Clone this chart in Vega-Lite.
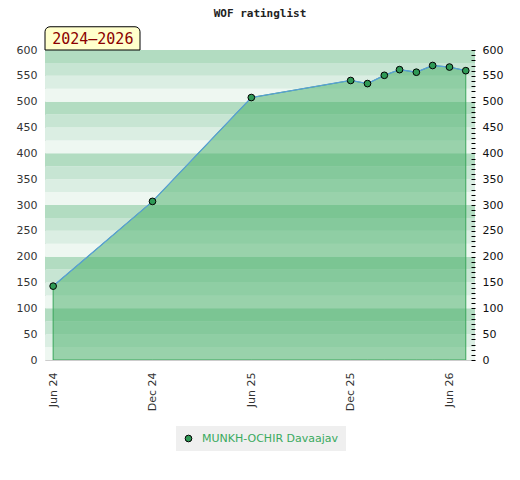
{
  "$schema": "https://vega.github.io/schema/vega-lite/v6.json",
  "autosize": "none",
  "width": 430,
  "height": 310,
  "padding": {"left": 45, "top": 50, "right": 45, "bottom": 120},
  "background": "white",
  "title": {"text": "WOF ratinglist", "font": "DejaVu Sans Mono", "fontSize": 11, "fontWeight": "bold", "color": "#222222", "offset": 7, "anchor": "middle"},
  "config": {
    "view": {"stroke": null},
    "axis": {"labelFont": "DejaVu Sans", "labelFontSize": 11, "labelColor": "#333333", "grid": false}
  },
  "datasets": {
    "ratings": [
      {"date": "2024-06-01", "rating": 143, "player": "MUNKH-OCHIR Davaajav"},
      {"date": "2024-12-01", "rating": 307, "player": "MUNKH-OCHIR Davaajav"},
      {"date": "2025-06-01", "rating": 508, "player": "MUNKH-OCHIR Davaajav"},
      {"date": "2025-12-01", "rating": 541, "player": "MUNKH-OCHIR Davaajav"},
      {"date": "2026-01-01", "rating": 535, "player": "MUNKH-OCHIR Davaajav"},
      {"date": "2026-02-01", "rating": 551, "player": "MUNKH-OCHIR Davaajav"},
      {"date": "2026-03-01", "rating": 562, "player": "MUNKH-OCHIR Davaajav"},
      {"date": "2026-04-01", "rating": 557, "player": "MUNKH-OCHIR Davaajav"},
      {"date": "2026-05-01", "rating": 570, "player": "MUNKH-OCHIR Davaajav"},
      {"date": "2026-06-01", "rating": 567, "player": "MUNKH-OCHIR Davaajav"},
      {"date": "2026-07-01", "rating": 560, "player": "MUNKH-OCHIR Davaajav"}
    ],
    "bands": [
      {"lo": 0, "hi": 25, "shade": "d"}, {"lo": 25, "hi": 50, "shade": "c"}, {"lo": 50, "hi": 75, "shade": "b"}, {"lo": 75, "hi": 100, "shade": "a"},
      {"lo": 100, "hi": 125, "shade": "d"}, {"lo": 125, "hi": 150, "shade": "c"}, {"lo": 150, "hi": 175, "shade": "b"}, {"lo": 175, "hi": 200, "shade": "a"},
      {"lo": 200, "hi": 225, "shade": "d"}, {"lo": 225, "hi": 250, "shade": "c"}, {"lo": 250, "hi": 275, "shade": "b"}, {"lo": 275, "hi": 300, "shade": "a"},
      {"lo": 300, "hi": 325, "shade": "d"}, {"lo": 325, "hi": 350, "shade": "c"}, {"lo": 350, "hi": 375, "shade": "b"}, {"lo": 375, "hi": 400, "shade": "a"},
      {"lo": 400, "hi": 425, "shade": "d"}, {"lo": 425, "hi": 450, "shade": "c"}, {"lo": 450, "hi": 475, "shade": "b"}, {"lo": 475, "hi": 500, "shade": "a"},
      {"lo": 500, "hi": 525, "shade": "d"}, {"lo": 525, "hi": 550, "shade": "c"}, {"lo": 550, "hi": 575, "shade": "b"}, {"lo": 575, "hi": 600, "shade": "a"}
    ],
    "note": [
      {"label": "2024–2026", "start": "2024-05-17", "end": "2024-11-08", "mid": "2024-08-13", "lo": 600, "hi": 645, "ty": 622}
    ]
  },
  "resolve": {"scale": {"color": "independent", "fill": "independent"}, "axis": {"y": "independent"}},
  "layer": [
    {
      "data": {"name": "bands"},
      "mark": {"type": "rect"},
      "encoding": {
        "y": {"field": "lo", "type": "quantitative", "scale": {"domain": [0, 600], "nice": false},
              "axis": {"orient": "left", "values": [0, 50, 100, 150, 200, 250, 300, 350, 400, 450, 500, 550, 600], "ticks": false, "domainColor": "#cccccc", "labelPadding": 8, "labelFlush": false, "title": null}},
        "y2": {"field": "hi"},
        "color": {"field": "shade", "type": "nominal", "scale": {"domain": ["a", "b", "c", "d"], "range": ["#b2dcc1", "#c7e5d3", "#dbeee3", "#eef7f1"]}, "legend": null}
      }
    },
    {
      "data": {"name": "ratings"},
      "mark": {"type": "area", "fill": "#43ad66", "fillOpacity": 0.5, "stroke": "#3aa65a", "strokeWidth": 1},
      "encoding": {
        "x": {"field": "date", "type": "temporal",
              "scale": {"type": "utc", "domain": [{"year": 2024, "month": 5, "date": 17, "utc": true}, {"year": 2026, "month": 7, "date": 18, "utc": true}]},
              "axis": {"values": [{"year": 2024, "month": 6, "date": 1, "utc": true}, {"year": 2024, "month": 12, "date": 1, "utc": true}, {"year": 2025, "month": 6, "date": 1, "utc": true}, {"year": 2025, "month": 12, "date": 1, "utc": true}, {"year": 2026, "month": 6, "date": 1, "utc": true}],
                       "format": "%b %y", "labelAngle": 270, "ticks": false, "domainColor": "#cccccc", "labelPadding": 12, "labelFlush": false, "title": null, "zindex": 1}},
        "y": {"field": "rating", "type": "quantitative", "axis": null}
      }
    },
    {
      "data": {"name": "ratings"},
      "mark": {"type": "line", "color": "#5a9fd8", "strokeWidth": 1.3},
      "encoding": {
        "x": {"field": "date", "type": "temporal"},
        "y": {"field": "rating", "type": "quantitative",
              "axis": {"orient": "right", "values": [0,10,20,30,40,50,60,70,80,90,100,110,120,130,140,150,160,170,180,190,200,210,220,230,240,250,260,270,280,290,300,310,320,330,340,350,360,370,380,390,400,410,420,430,440,450,460,470,480,490,500,510,520,530,540,550,560,570,580,590,600],
                       "labelExpr": "datum.value % 50 == 0 ? datum.label : ''", "tickColor": "#000000", "tickSize": -4, "domain": false, "labelPadding": 11, "labelFlush": false, "labelColor": "#111111", "title": null, "zindex": 1}}
      }
    },
    {
      "data": {"name": "ratings"},
      "mark": {"type": "point", "filled": true, "size": 45, "stroke": "#000000", "strokeWidth": 1, "opacity": 1},
      "encoding": {
        "x": {"field": "date", "type": "temporal"},
        "y": {"field": "rating", "type": "quantitative", "axis": null},
        "fill": {"field": "player", "type": "nominal", "scale": {"range": ["#2f9a56"]},
                 "legend": {"orient": "none", "legendX": 131, "legendY": 376, "title": null, "fillColor": "#efefef", "padding": 7,
                            "labelColor": "#3aaa5e", "labelFont": "DejaVu Sans", "labelFontSize": 11, "symbolType": "circle", "symbolSize": 45,
                            "symbolStrokeColor": "#000000", "symbolStrokeWidth": 1, "symbolOffset": 0, "labelOffset": 8}}
      }
    },
    {
      "data": {"name": "note"},
      "mark": {"type": "rect", "fill": "#ffffcc", "stroke": "#000000", "strokeWidth": 1, "cornerRadiusTopLeft": 5, "cornerRadiusTopRight": 5},
      "encoding": {
        "x": {"field": "start", "type": "temporal"},
        "x2": {"field": "end"},
        "y": {"field": "lo", "type": "quantitative", "axis": null},
        "y2": {"field": "hi"}
      }
    },
    {
      "data": {"name": "note"},
      "mark": {"type": "text", "font": "DejaVu Sans Mono", "fontSize": 15, "color": "#8b0000", "baseline": "middle", "align": "center"},
      "encoding": {
        "x": {"field": "mid", "type": "temporal"},
        "y": {"field": "ty", "type": "quantitative", "axis": null},
        "text": {"field": "label"}
      }
    }
  ]
}
